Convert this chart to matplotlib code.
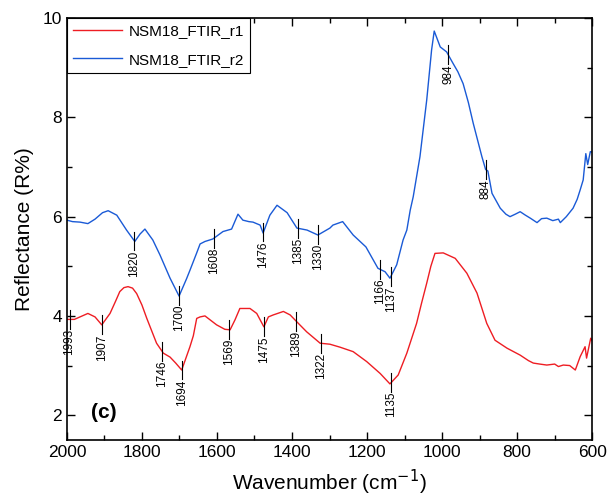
import numpy as np
import matplotlib
matplotlib.use('Agg')
from matplotlib import pyplot as plt
from matplotlib.ticker import MultipleLocator

plt.rcParams['font.family'] = ['Liberation Sans', 'DejaVu Sans']

# spectrum r2 (blue)
wn_r2 = [2000, 1985, 1965, 1944, 1925, 1905, 1890, 1867, 1841, 1819, 1805, 1792, 1771, 1752,
         1725, 1701, 1681, 1672, 1654, 1645, 1632, 1611, 1584, 1561, 1544, 1531, 1515, 1504,
         1485, 1477, 1459, 1440, 1413, 1387, 1360, 1331, 1299, 1291, 1265, 1237, 1203, 1171,
         1152, 1139, 1121, 1104, 1094, 1085, 1077, 1059, 1041, 1028, 1021, 1005, 988, 971,
         958, 944, 930, 917, 894, 884, 878, 867, 845, 830, 819, 805, 792, 778, 765, 747, 735,
         721, 705, 690, 685, 669, 651, 640, 632, 624, 617, 612, 605, 600]
r2 = [5.93, 5.90, 5.89, 5.86, 5.95, 6.08, 6.12, 6.03, 5.73, 5.50, 5.65, 5.75, 5.53, 5.23,
      4.76, 4.40, 4.75, 4.92, 5.27, 5.45, 5.50, 5.55, 5.70, 5.75, 6.05, 5.93, 5.90, 5.89,
      5.83, 5.67, 6.03, 6.23, 6.08, 5.77, 5.73, 5.63, 5.77, 5.83, 5.90, 5.63, 5.39, 4.96,
      4.89, 4.76, 5.03, 5.53, 5.73, 6.13, 6.40, 7.21, 8.35, 9.36, 9.74, 9.42, 9.32, 9.09,
      8.92, 8.68, 8.30, 7.88, 7.21, 6.95, 6.92, 6.47, 6.17, 6.05, 6.00, 6.05, 6.10, 6.03,
      5.97, 5.88, 5.96, 5.97, 5.92, 5.95, 5.88, 6.00, 6.17, 6.35, 6.54, 6.74, 7.27, 7.05,
      7.31, 7.30]

# spectrum r1 (red)
wn_r1 = [2000, 1980, 1965, 1944, 1925, 1907, 1885, 1870, 1859, 1848, 1837, 1825, 1814, 1800,
         1787, 1761, 1743, 1725, 1710, 1694, 1672, 1663, 1654, 1645, 1632, 1601, 1579, 1565,
         1552, 1539, 1512, 1494, 1475, 1463, 1450, 1423, 1405, 1387, 1361, 1325, 1299, 1272,
         1237, 1201, 1165, 1139, 1117, 1094, 1068, 1055, 1041, 1030, 1019, 997, 965, 934, 907,
         881, 859, 827, 792, 770, 757, 740, 721, 700, 690, 677, 660, 645, 632, 619, 615, 604,
         600]
r1 = [3.93, 3.93, 3.98, 4.05, 3.98, 3.82, 4.05, 4.30, 4.49, 4.57, 4.59, 4.56, 4.45, 4.22,
      3.95, 3.45, 3.25, 3.17, 3.05, 2.91, 3.38, 3.60, 3.95, 3.98, 4.00, 3.82, 3.73, 3.72,
      3.92, 4.15, 4.15, 4.05, 3.78, 3.98, 4.02, 4.09, 4.02, 3.88, 3.68, 3.45, 3.43, 3.37,
      3.28, 3.08, 2.84, 2.63, 2.81, 3.25, 3.85, 4.25, 4.66, 5.00, 5.26, 5.27, 5.16, 4.86,
      4.46, 3.85, 3.51, 3.35, 3.21, 3.10, 3.05, 3.03, 3.01, 3.03, 2.98, 3.01, 3.00, 2.91,
      3.18, 3.38, 3.15, 3.55, 3.50]

peaks_r2 = [1820, 1700, 1608, 1476, 1385, 1330, 1166, 1137, 984, 884]
peaks_r1 = [1993, 1907, 1746, 1694, 1569, 1475, 1389, 1322, 1135]

red = '#ee1d23'
blue = '#1a5ad6'

fig = plt.figure(figsize=(6.08, 5.04), dpi=100)
ax = fig.add_axes([0.110, 0.127, 0.864, 0.837])

ax.plot(wn_r1, r1, color=red, lw=1.0, label='NSM18_FTIR_r1')
ax.plot(wn_r2, r2, color=blue, lw=1.0, label='NSM18_FTIR_r2')

# peak markers: short vertical bar and rotated label under it
for wn, yy, pk in [(wn_r2, r2, peaks_r2), (wn_r1, r1, peaks_r1)]:
    xs = np.array(wn[::-1], dtype=float)
    ys = np.array(yy[::-1], dtype=float)
    for p in pk:
        y0 = np.interp(p, xs, ys)
        ax.plot([p, p], [y0 + 0.19, y0 - 0.19], color='black', lw=0.8)
        ax.text(p, y0 - 0.19, str(p), rotation=90, ha='center', va='top', fontsize=8.5)

ax.text(1901, 2.06, '(c)', fontsize=15, fontweight='bold', ha='center', va='center')

ax.set_xlim(2000, 600)
ax.set_ylim(1.5, 10)
ax.xaxis.set_major_locator(MultipleLocator(200))
ax.xaxis.set_minor_locator(MultipleLocator(100))
ax.yaxis.set_major_locator(MultipleLocator(2))
ax.yaxis.set_minor_locator(MultipleLocator(1))
ax.tick_params(which='both', direction='in', top=True, right=True, labelsize=12.5, width=1.0)
ax.tick_params(which='major', length=6)
ax.tick_params(which='minor', length=3.5)
for s in ax.spines.values():
    s.set_linewidth(1.2)

ax.set_xlabel('Wavenumber (cm$^{-1}$)', fontsize=15, labelpad=6)
ax.set_ylabel('Reflectance (R%)', fontsize=15, labelpad=6)

leg = ax.legend(loc='upper left', fontsize=11, frameon=True, fancybox=False, borderaxespad=0,
                handlelength=3.2, handletextpad=0.45, borderpad=0.4, labelspacing=0.95,
                framealpha=1, edgecolor='black')
leg.get_frame().set_linewidth(0.8)

plt.savefig('out.png', dpi=100)
